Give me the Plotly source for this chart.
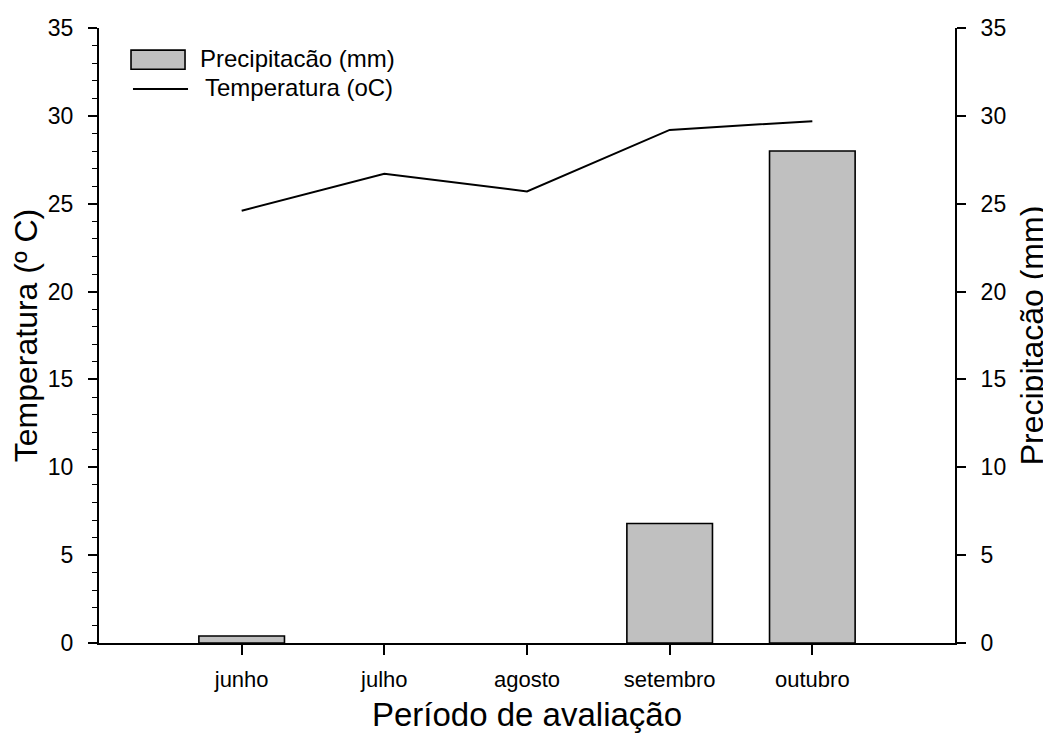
import plotly.graph_objects as go

meses = ["junho", "julho", "agosto", "setembro", "outubro"]
precipitacao = [0.4, 0.0, 0.0, 6.8, 28.0]
temperatura = [24.6, 26.7, 25.7, 29.2, 29.7]
yticks = [0, 5, 10, 15, 20, 25, 30, 35]
nome_precip = "Precipitacão (mm)"
nome_temp = "Temperatura (oC)"

xpos = list(range(len(meses)))
font = "Liberation Sans, Arial, sans-serif"

fig = go.Figure()
fig.add_trace(go.Bar(
    x=xpos, y=precipitacao, name=nome_precip, yaxis="y2", showlegend=False,
    width=0.6,
    marker=dict(color="#c0c0c0",
                line=dict(color="black", width=[1.6 if v > 0 else 0 for v in precipitacao])),
))
fig.add_trace(go.Scatter(
    x=xpos, y=temperatura, name=nome_temp, mode="lines", showlegend=False,
    line=dict(color="black", width=2),
))

# custom legend (wide swatches like the original)
fig.add_shape(type="rect", xref="paper", yref="paper", x0=0.0374, x1=0.1005, y0=0.933, y1=0.964,
              fillcolor="#c0c0c0", line=dict(color="black", width=1.6))
fig.add_shape(type="line", xref="paper", yref="paper", x0=0.0397, x1=0.104, y0=0.9008, y1=0.9008,
              line=dict(color="black", width=2))
fig.add_annotation(xref="paper", yref="paper", x=0.116, y=0.950, text=nome_precip, showarrow=False,
                   xanchor="left", yanchor="middle", font=dict(size=24, family=font, color="black"))
fig.add_annotation(xref="paper", yref="paper", x=0.121, y=0.903, text=nome_temp, showarrow=False,
                   xanchor="left", yanchor="middle", font=dict(size=24, family=font, color="black"))

# the page body adds an 8 px margin, so the figure is sized/offset to compensate
fig.update_layout(
    width=1043, height=732,
    margin=dict(l=91, r=96, t=20, b=97, autoexpand=False),
    plot_bgcolor="white", paper_bgcolor="white",
    font=dict(family=font, color="black"),
    showlegend=False,
    xaxis=dict(
        range=[-1, 5], tickvals=xpos, ticktext=meses, showgrid=False, zeroline=False,
        automargin=False,
        showline=True, linecolor="black", linewidth=2, ticks="outside", ticklen=10,
        tickwidth=1.5, tickcolor="black", tickfont=dict(size=22), ticklabelstandoff=6,
        title=dict(text="Período de avaliação", font=dict(size=33), standoff=11),
    ),
    yaxis=dict(
        range=[0, 35], tickvals=yticks, showgrid=False, zeroline=False, automargin=False,
        showline=True, linecolor="black", linewidth=2, ticks="outside", ticklen=9,
        tickwidth=1.5, tickcolor="black", tickfont=dict(size=23), ticklabelstandoff=10,
        minor=dict(dtick=1, ticks="outside", ticklen=5, tickwidth=1.2, tickcolor="black", showgrid=False),
        title=dict(text="Temperatura (º C)", font=dict(size=32), standoff=3),
    ),
    yaxis2=dict(
        range=[0, 35], tickvals=yticks, overlaying="y", side="right", showgrid=False,
        zeroline=False, showline=True, linecolor="black", linewidth=2, automargin=False,
        ticks="outside", ticklen=9, tickwidth=1.5, tickcolor="black", tickfont=dict(size=23),
        ticklabelstandoff=10,
        title=dict(text="Precipitação (mm)", font=dict(size=32), standoff=15),
    ),
)

fig.write_html("out.html")
